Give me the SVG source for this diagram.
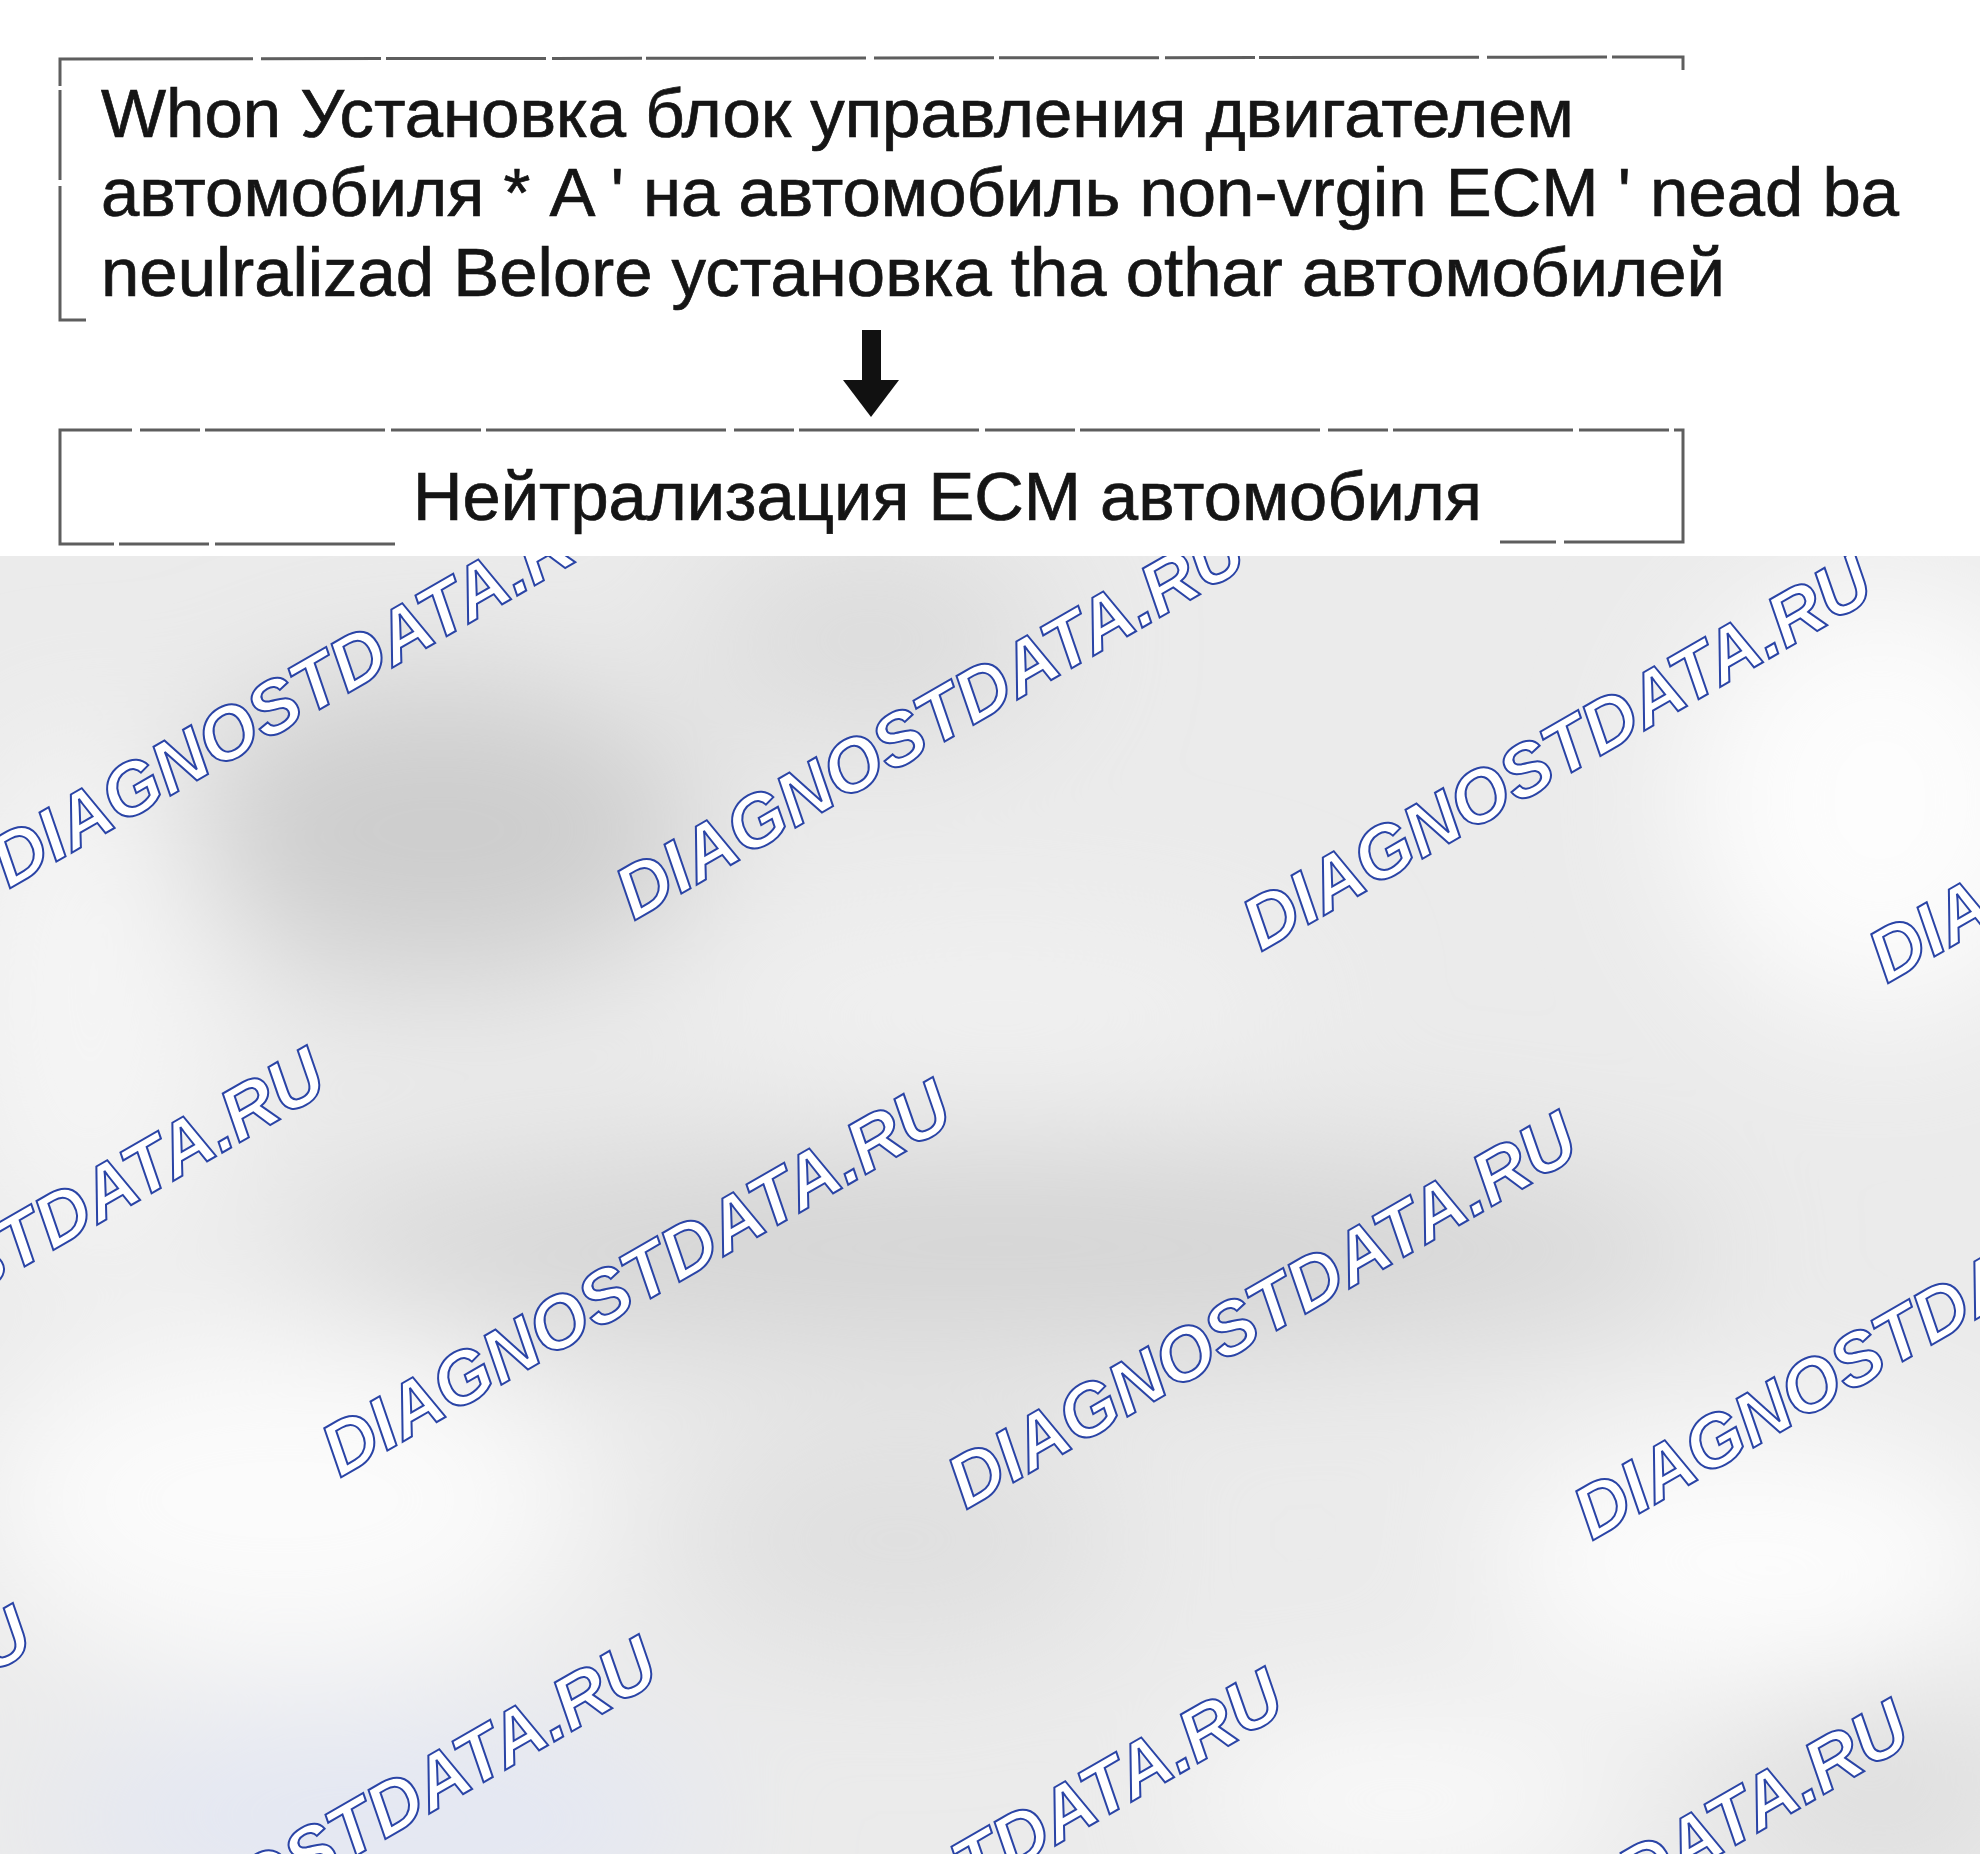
<svg xmlns="http://www.w3.org/2000/svg" width="1980" height="1854" viewBox="0 0 1980 1854">
<defs>
<style>
.txt{font-family:"Liberation Sans",Arial,sans-serif;font-size:68px;fill:#151515;stroke:#151515;stroke-width:0.7}
.wm{font-family:"Liberation Sans",Arial,sans-serif;font-size:74px;font-weight:bold;font-style:italic;fill:#ffffff;stroke:#2a44a6;stroke-width:2}
.frame{fill:none;stroke:#5e5e5e;stroke-width:3}
</style>
<filter id="blur" filterUnits="userSpaceOnUse" x="-200" y="400" width="2400" height="1700">
<feGaussianBlur stdDeviation="70"/>
</filter>
<clipPath id="bgclip"><rect x="0" y="556" width="1980" height="1298"/></clipPath>
</defs>
<rect x="0" y="0" width="1980" height="1854" fill="#ffffff"/>
<g id="background" clip-path="url(#bgclip)">
<rect x="0" y="556" width="1980" height="1298" fill="#ebebeb"/>
<g filter="url(#blur)">
<ellipse cx="440" cy="830" rx="260" ry="150" fill="#cdcdcd"/>
<ellipse cx="870" cy="640" rx="180" ry="90" fill="#dadada"/>
<ellipse cx="1880" cy="800" rx="200" ry="220" fill="#fdfdfd"/>
<ellipse cx="90" cy="1000" rx="130" ry="260" fill="#f5f5f5"/>
<ellipse cx="1000" cy="1010" rx="300" ry="80" fill="#f1f1f1"/>
<ellipse cx="1000" cy="1250" rx="720" ry="100" fill="#d4d4d4"/>
<ellipse cx="280" cy="1500" rx="300" ry="170" fill="#fbfbfb"/>
<ellipse cx="900" cy="1540" rx="220" ry="110" fill="#dfdfdf"/>
<ellipse cx="1750" cy="1560" rx="260" ry="130" fill="#fdfdfd"/>
<ellipse cx="380" cy="1820" rx="330" ry="90" fill="#e3e7f4"/>
<ellipse cx="1400" cy="1800" rx="220" ry="80" fill="#fbfbfb"/>
<ellipse cx="1880" cy="1790" rx="160" ry="100" fill="#dedede"/>
</g>
<g id="watermarks">
<text class="wm" transform="translate(9,889) rotate(-30)">DIAGNOSTDATA.RU</text>
<text class="wm" transform="translate(634,921) rotate(-30)">DIAGNOSTDATA.RU</text>
<text class="wm" transform="translate(1261,952) rotate(-30)">DIAGNOSTDATA.RU</text>
<text class="wm" transform="translate(1887,984) rotate(-30)">DIAGNOSTDATA.RU</text>
<text class="wm" transform="translate(-286,1446) rotate(-30)">DIAGNOSTDATA.RU</text>
<text class="wm" transform="translate(340,1478) rotate(-30)">DIAGNOSTDATA.RU</text>
<text class="wm" transform="translate(966,1510) rotate(-30)">DIAGNOSTDATA.RU</text>
<text class="wm" transform="translate(1592,1541) rotate(-30)">DIAGNOSTDATA.RU</text>
<text class="wm" transform="translate(-580,2004) rotate(-30)">DIAGNOSTDATA.RU</text>
<text class="wm" transform="translate(46,2035) rotate(-30)">DIAGNOSTDATA.RU</text>
<text class="wm" transform="translate(672,2067) rotate(-30)">DIAGNOSTDATA.RU</text>
<text class="wm" transform="translate(1298,2098) rotate(-30)">DIAGNOSTDATA.RU</text>
</g>
</g>
<g id="node-install">
<path class="frame" d="M86,320 L60,320 L60,59 L1683,57 L1683,70" stroke-dasharray="160 6 90 4 220 8 120 5"/>
<text class="txt" x="101" y="137" textLength="1473" lengthAdjust="spacingAndGlyphs">Whon Установка блок управления двигателем</text>
<text class="txt" x="101" y="216" textLength="1798" lengthAdjust="spacingAndGlyphs">автомобиля * A ' на автомобиль non-vrgin ECM ' nead ba</text>
<text class="txt" x="101" y="296" textLength="1624" lengthAdjust="spacingAndGlyphs">neulralizad Belore установка tha othar автомобилей</text>
</g>
<g id="connectors">
<rect x="862" y="330" width="19" height="54" fill="#111111"/>
<polygon points="843,380 899,380 871,417" fill="#111111"/>
</g>
<g id="node-neutralize">
<path class="frame" d="M395,544 L60,544 L60,430 L1683,430 L1683,542 L1500,542" stroke-dasharray="180 6 90 5 240 8 60 5"/>
<text class="txt" x="413" y="520" textLength="1069" lengthAdjust="spacingAndGlyphs">Нейтрализация ECM автомобиля</text>
</g>
</svg>
